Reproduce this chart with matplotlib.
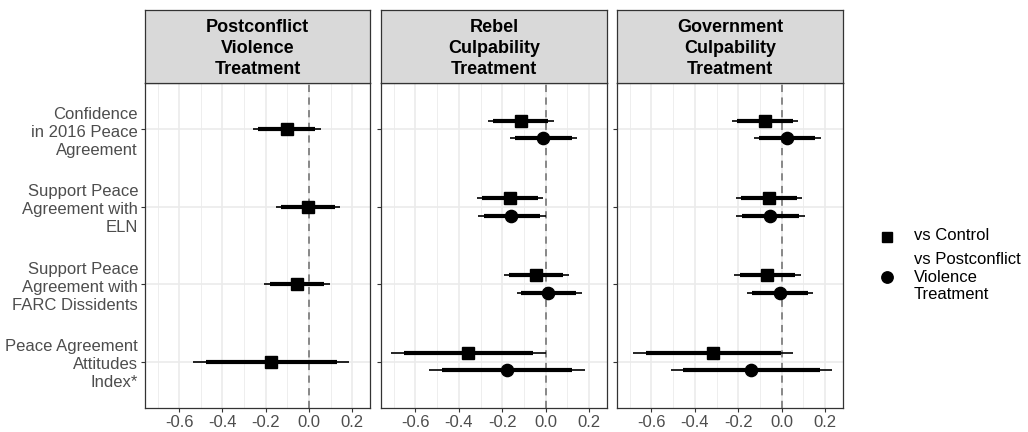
import matplotlib
matplotlib.use("Agg")
import matplotlib.pyplot as plt
import numpy as np

plt.rcParams['font.family'] = ['Liberation Sans', 'DejaVu Sans']

outcomes = ["Confidence\nin 2016 Peace\nAgreement",
            "Support Peace\nAgreement with\nELN",
            "Support Peace\nAgreement with\nFARC Dissidents",
            "Peace Agreement\nAttitudes\nIndex*"]
panels = ["Postconflict\nViolence\nTreatment",
          "Rebel\nCulpability\nTreatment",
          "Government\nCulpability\nTreatment"]
series = ["vs Control", "vs Postconflict\nViolence\nTreatment"]
xticks = [-0.6, -0.4, -0.2, 0.0, 0.2]

# estimates, 90% CI (thick) and 95% CI (thin); order: outcomes
est_ctrl = [[-0.103, -0.005, -0.057, -0.175],
            [-0.115, -0.165, -0.045, -0.357],
            [-0.078, -0.058, -0.066, -0.315]]
lo90_ctrl = [[-0.235, -0.131, -0.180, -0.478],
             [-0.243, -0.292, -0.169, -0.654],
             [-0.208, -0.188, -0.194, -0.626]]
hi90_ctrl = [[0.029, 0.120, 0.069, 0.129],
             [0.012, -0.037, 0.080, -0.058],
             [0.051, 0.071, 0.063, -0.003]]
lo95_ctrl = [[-0.258, -0.154, -0.208, -0.538],
             [-0.266, -0.315, -0.192, -0.712],
             [-0.231, -0.211, -0.218, -0.685]]
hi95_ctrl = [[0.054, 0.145, 0.095, 0.186],
             [0.038, -0.012, 0.105, 0.000],
             [0.075, 0.095, 0.088, 0.054]]

est_pv = [None,
          [-0.011, -0.160, 0.012, -0.178],
          [0.025, -0.054, -0.008, -0.140]]
lo90_pv = [None,
           [-0.142, -0.285, -0.112, -0.477],
           [-0.106, -0.185, -0.138, -0.452]]
hi90_pv = [None,
           [0.120, -0.028, 0.138, 0.123],
           [0.155, 0.078, 0.120, 0.174]]
lo95_pv = [None,
           [-0.166, -0.310, -0.134, -0.535],
           [-0.129, -0.209, -0.162, -0.511]]
hi95_pv = [None,
           [0.146, 0.000, 0.165, 0.180],
           [0.183, 0.105, 0.146, 0.232]]

W, H = 1028, 432
fig = plt.figure(figsize=(W / 100, H / 100), dpi=100)

panel_x = [(145, 370), (381, 607), (617, 843)]
ptop, pbot = 83, 408
stop = 10
xlim = (-0.758, 0.282)
border = "#333333"
gridc = "#EBEBEB"
textc = "#4D4D4D"

def ax_rect(x0, x1, y0, y1):
    return [x0 / W, 1 - y1 / H, (x1 - x0) / W, (y1 - y0) / H]

n = len(outcomes)
ypos = np.arange(n)  # 0 at top
dodge = 0.113

for p, (x0, x1) in enumerate(panel_x):
    ax = fig.add_axes(ax_rect(x0, x1, ptop, pbot))
    ax.set_xlim(*xlim)
    ax.set_ylim(n - 1 + 0.6, -0.6)
    for v in np.arange(-0.7, 0.25, 0.2):
        ax.axvline(v, color=gridc, lw=0.6, zorder=0)
    for v in xticks:
        ax.axvline(v, color=gridc, lw=1.2, zorder=0)
    for y in ypos:
        ax.axhline(y, color=gridc, lw=1.2, zorder=0)
    ax.axvline(0, color="#808080", lw=1.3, ls=(0, (4, 3)), zorder=1)

    if est_pv[p] is None:
        offs = [(0.0, est_ctrl, lo90_ctrl, hi90_ctrl, lo95_ctrl, hi95_ctrl, 's', 8)]
    else:
        offs = [(-dodge, est_ctrl, lo90_ctrl, hi90_ctrl, lo95_ctrl, hi95_ctrl, 's', 8),
                (dodge, est_pv, lo90_pv, hi90_pv, lo95_pv, hi95_pv, 'o', 8.8)]
    for off, e, l9, h9, l5, h5, mk, ms in offs:
        for i in range(n):
            y = ypos[i] + off
            ax.plot([l5[p][i], h5[p][i]], [y, y], color="black", lw=1.2, solid_capstyle='butt', zorder=2)
            ax.plot([l9[p][i], h9[p][i]], [y, y], color="black", lw=3.0, solid_capstyle='butt', zorder=3)
            ax.plot([e[p][i]], [y], marker=mk, ms=ms, color="black", ls='none', zorder=4)

    ax.set_xticks(xticks)
    ax.set_xticklabels(["-0.6", "-0.4", "-0.2", "0.0", "0.2"], fontsize=12, color=textc)
    ax.set_yticks(ypos)
    if p == 0:
        ax.set_yticklabels(outcomes, fontsize=12, color=textc, linespacing=1.25)
    else:
        ax.set_yticklabels([])
    ax.tick_params(axis='both', length=3, width=0.8, color=border, pad=2)
    for s in ax.spines.values():
        s.set_color(border)
        s.set_linewidth(0.9)

    sax = fig.add_axes(ax_rect(x0, x1, stop, ptop))
    sax.set_facecolor("#D9D9D9")
    sax.set_xticks([]); sax.set_yticks([])
    for s in sax.spines.values():
        s.set_color(border)
        s.set_linewidth(0.9)
    sax.text(0.5, 0.47, panels[p], ha='center', va='center', fontsize=13,
             fontweight='bold', color="black", linespacing=1.3, transform=sax.transAxes)

# legend
lx = 887 / W
fig.lines.append(plt.Line2D([lx], [1 - 236.5 / H], marker='s', ms=7.5, color='black', ls='none',
                            transform=fig.transFigure))
fig.lines.append(plt.Line2D([lx], [1 - 277 / H], marker='o', ms=8.2, color='black', ls='none',
                            transform=fig.transFigure))
fig.text(914 / W, 1 - 236 / H, series[0], fontsize=12, va='center', ha='left', color='black')
fig.text(914 / W, 1 - 277 / H, series[1], fontsize=12, va='center', ha='left', color='black',
         linespacing=1.2)

fig.savefig("out.png", dpi=100)
